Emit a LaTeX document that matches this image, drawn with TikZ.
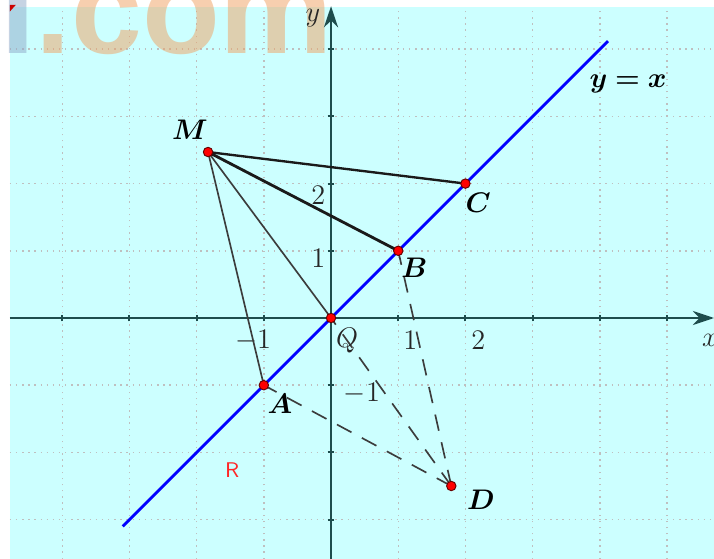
\documentclass[tikz,border=0pt]{standalone}
\usepackage{amsmath,amssymb,bm}
\usepackage{fontspec}
\newfontfamily\marksans{Liberation Sans}
\usepackage{tikz}
\usetikzlibrary{arrows.meta}
\usepackage{xcolor}
\definecolor{axisteal}{HTML}{1E4D4D}
\definecolor{planecyan}{HTML}{CCFFFF}
\definecolor{markorange}{HTML}{F0A060}
\definecolor{markblue}{HTML}{8FA8C8}
\definecolor{segdark}{HTML}{1A1A1A}
\definecolor{seggray}{HTML}{3C3C3C}

\tikzset{
    ptdot/.style={circle, fill=red, draw=red!40!black, line width=0.4pt, inner sep=0pt, minimum size=4pt},
    ptlabel/.style={font=\large},
    ticklabel/.style={font=\large, text=black!85},
    dashseg/.style={seggray, dashed, dash pattern=on 7pt off 5pt, line width=0.7pt}
}

\begin{document}
\begin{tikzpicture}[
    x=1cm, y=1cm,
    font=\normalsize
]
    % 0. Cornice e sfondo
    \useasboundingbox (-4.926,-3.586) rectangle (5.699,4.732);
    \fill[white] (-4.926,-3.586) rectangle (5.699,4.732);
    \fill[planecyan] (-4.78,-3.586) rectangle (5.699,4.63);
    \draw[gray!50, dotted, line width=0.6pt] (-4.78,-3.586) grid (5.699,4.63);

    % 1. Filigrana
    \node[anchor=base west, inner sep=0pt, font=\marksans\bfseries\fontsize{54}{54}\selectfont, text=markorange, opacity=0.5] (mark) at (-4.93,3.93) {{\color{markblue}l}.com};
    \fill[red!80!black] (-4.78,4.66) -- (-4.69,4.66) -- (-4.78,4.56) -- cycle;

    % 2. Assi
    \coordinate (xstart) at (-4.78,0);
    \coordinate (xend) at (5.699,0);
    \coordinate (ystart) at (0,-3.586);
    \coordinate (yend) at (0,4.64);
    \draw[axisteal, line width=0.9pt, -{Stealth[length=9pt,width=6pt]}] (xstart) -- (xend);
    \draw[axisteal, line width=0.9pt, -{Stealth[length=9pt,width=6pt]}] (ystart) -- (yend);
    \foreach \t in {-4,...,5} \draw[axisteal, line width=0.9pt] (\t,-0.05) -- (\t,0.05);
    \foreach \t in {-3,...,4} \draw[axisteal, line width=0.9pt] (-0.05,\t) -- (0.05,\t);

    \node[ticklabel] (xlab) at (5.64,-0.33) {$x$};
    \node[ticklabel] (ylab) at (-0.27,4.46) {$y$};
    \node[ticklabel] (xm1) at (-1.16,-0.33) {$-1$};
    \node[ticklabel] (xp1) at (1.18,-0.33) {$1$};
    \node[ticklabel] (xp2) at (2.19,-0.33) {$2$};
    \node[ticklabel] (yp1) at (-0.19,0.89) {$1$};
    \node[ticklabel] (yp2) at (-0.19,1.83) {$2$};
    \node[ticklabel] (ym1) at (0.46,-1.12) {$-1$};

    % 3. Retta y = x
    \coordinate (lstart) at (-3.10,-3.10);
    \coordinate (lend) at (4.12,4.12);
    \draw[blue, line width=1.2pt] (lstart) -- (lend);
    \node[ptlabel] (eq) at (4.42,3.48) {$\bm{y=x}$};

    % 4. Punti
    \coordinate (M) at (-1.83,2.47);
    \coordinate (C) at (2,2);
    \coordinate (B) at (1,1);
    \coordinate (O) at (0,0);
    \coordinate (A) at (-1,-1);
    \coordinate (D) at (1.79,-2.50);

    % 5. Segmenti
    \draw[segdark, line width=1.0pt] (M) -- (C);
    \draw[segdark, line width=1.2pt] (M) -- (B);
    \draw[seggray, line width=0.7pt] (M) -- (O);
    \draw[seggray, line width=0.7pt] (M) -- (A);
    \draw[dashseg] (D) -- (A);
    \draw[dashseg] (D) -- (O);
    \draw[dashseg] (D) -- (B);

    \foreach \p in {M,C,B,O,A,D} \node[ptdot] at (\p) {};

    % 6. Etichette
    \node[ptlabel] (Mlab) at (-2.10,2.80) {$\bm{M}$};
    \node[ptlabel] (Clab) at (2.19,1.71) {$\bm{C}$};
    \node[ptlabel] (Blab) at (1.24,0.74) {$\bm{B}$};
    \node[ticklabel] (Olab) at (0.24,-0.33) {$Q$};
    \node[ptlabel] (Alab) at (-0.76,-1.28) {$\bm{A}$};
    \node[ptlabel] (Dlab) at (2.23,-2.71) {$\bm{D}$};
    \node[font=\sffamily\small, text=red!85] (R) at (-1.47,-2.26) {R};

\end{tikzpicture}
\end{document}
